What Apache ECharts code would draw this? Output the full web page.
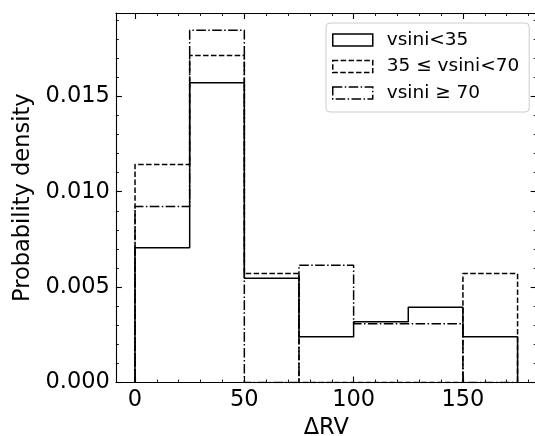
<!DOCTYPE html>
<html>
<head>
<meta charset="utf-8">
<script src="https://cdn.jsdelivr.net/npm/echarts@6/dist/echarts.min.js"></script>
<style>html,body{margin:0;padding:0;background:#fff}#c{width:535px;height:436px}</style>
</head>
<body>
<div id="c"></div>
<script>
// ---- data ----
const binEdges = [0, 25, 50, 75, 100, 125, 150, 175];
const seriesNames = ['vsini<35', '35 \u2264 vsini<70', 'vsini \u2265 70'];
const densLow  = [0.00707, 0.01571, 0.00546, 0.00240, 0.00319, 0.00394, 0.00240];
const densMid  = [0.01143, 0.01714, 0.00571, 0, 0, 0, 0.00571];
const densHigh = [0.00923, 0.01846, 0, 0.00615, 0.00308, 0.00308, 0];
const xMajorTicks = [0, 50, 100, 150];
const xMinorTicks = [10, 20, 30, 40, 60, 70, 80, 90, 110, 120, 130, 140, 160, 170, 180];
const yMajorTicks = [0, 0.005, 0.010, 0.015];
const yMinorTicks = [0.001, 0.002, 0.003, 0.004, 0.006, 0.007, 0.008, 0.009, 0.011, 0.012, 0.013, 0.014, 0.016, 0.017, 0.018, 0.019];
const xLabel = '\u0394RV';
const yLabel = 'Probability density';

const FONT = 'DejaVu Sans';
const dashStyles = ['solid', [5.5, 2.4], [9.6, 2.4, 1.5, 2.4]];

function outline(vals) {
  const pts = [[binEdges[0], 0]];
  vals.forEach((v, i) => { pts.push([binEdges[i], v], [binEdges[i + 1], v]); });
  pts.push([binEdges[binEdges.length - 1], 0]);
  return pts;
}

const X_MIN = -8.75, X_MAX = 183.75, Y_MIN = 0, Y_MAX = 0.01937;

function xAx(pos, ticks, len, showLine, labels) {
  return {
    type: 'value', position: pos, min: X_MIN, max: X_MAX,
    axisLine: { show: showLine, onZero: false, lineStyle: { color: '#000', width: 1.1 } },
    axisTick: { show: true, inside: true, length: len, customValues: ticks, lineStyle: { color: '#000', width: len > 4 ? 1.1 : 0.9 } },
    axisLabel: labels ? { show: true, customValues: ticks, fontSize: 22.5, fontFamily: FONT, color: '#000', margin: 6 } : { show: false },
    splitLine: { show: false }
  };
}
function yAx(pos, ticks, len, showLine, labels) {
  return {
    type: 'value', position: pos, min: Y_MIN, max: Y_MAX,
    axisLine: { show: showLine, onZero: false, lineStyle: { color: '#000', width: 1.1 } },
    axisTick: { show: true, inside: true, length: len, customValues: ticks, lineStyle: { color: '#000', width: len > 4 ? 1.1 : 0.9 } },
    axisLabel: labels ? { show: true, customValues: ticks, fontSize: 22.5, fontFamily: FONT, color: '#000', margin: 6,
      formatter: v => v.toFixed(3) } : { show: false },
    splitLine: { show: false }
  };
}

const xAxes = [
  xAx('bottom', xMajorTicks, 6, true, true),
  xAx('bottom', xMinorTicks, 3, false, false),
  xAx('top', xMajorTicks, 6, true, false),
  xAx('top', xMinorTicks, 3, false, false)
];
Object.assign(xAxes[0], { name: xLabel, nameLocation: 'middle', nameGap: 31.5,
  nameTextStyle: { fontSize: 22.5, fontFamily: FONT, color: '#000' } });
const yAxes = [
  yAx('left', yMajorTicks, 6, true, true),
  yAx('left', yMinorTicks, 3, false, false),
  yAx('right', yMajorTicks, 6, true, false),
  yAx('right', yMinorTicks, 3, false, false)
];
Object.assign(yAxes[0], { name: yLabel, nameLocation: 'middle', nameGap: 80,
  nameTextStyle: { fontSize: 22.5, fontFamily: FONT, color: '#000' } });

const allDens = [densLow, densMid, densHigh];
const series = allDens.map((d, i) => ({
  name: seriesNames[i], type: 'line', xAxisIndex: 0, yAxisIndex: 0,
  data: outline(d), symbol: 'none', showSymbol: false,
  lineStyle: { color: '#000', width: 1.5, type: dashStyles[i] },
  itemStyle: { color: '#000' }, z: 3 + i
}));

const chart = echarts.init(document.getElementById('c'), null, { renderer: 'canvas' });
chart.setOption({
  animation: false,
  backgroundColor: '#fff',
  grid: { left: 115.9, right: -1.7, top: 13, bottom: 53.5, containLabel: false, outerBoundsMode: 'none' },
  xAxis: xAxes,
  yAxis: yAxes,
  legend: {
    orient: 'vertical', left: 326, top: 23,
    padding: [7, 10, 9, 6], itemGap: 6.5, itemWidth: 40, itemHeight: 12,
    backgroundColor: 'rgba(255,255,255,0.8)', borderColor: '#cccccc', borderWidth: 1, borderRadius: 4,
    textStyle: { fontSize: 18.5, fontFamily: FONT, color: '#000', lineHeight: 20, padding: [0, 0, 0, 9] },
    data: seriesNames.map((n, i) => ({
      name: n, icon: 'rect',
      itemStyle: { color: 'rgba(0,0,0,0)', borderColor: '#000', borderWidth: 1.5, borderType: dashStyles[i] }
    }))
  },
  series: series
});
</script>
</body>
</html>
